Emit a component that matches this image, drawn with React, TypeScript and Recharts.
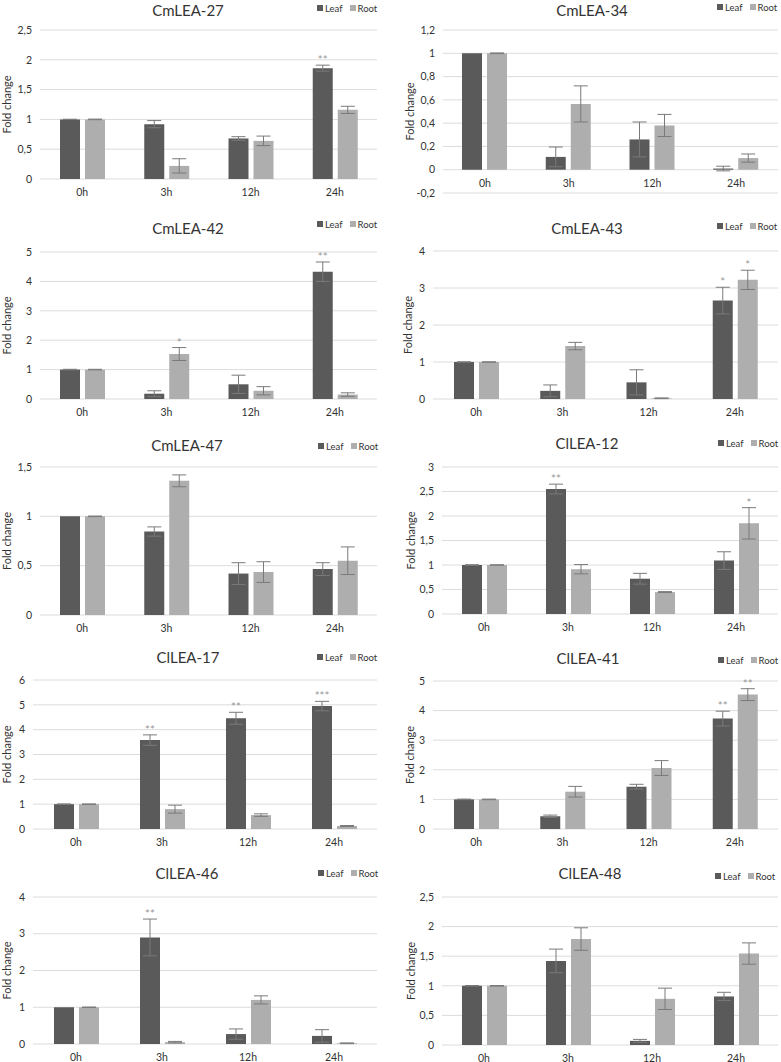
import { Bar, BarChart, CartesianGrid, ErrorBar, LabelList, XAxis, YAxis } from 'recharts'

const times = ['0h', '3h', '12h', '24h']

const cm27Leaf = [1, 0.92, 0.68, 1.86]
const cm27LeafErr = [0.003, 0.06, 0.03, 0.05]
const cm27Root = [1, 0.22, 0.64, 1.16]
const cm27RootErr = [0.005, 0.12, 0.08, 0.06]
const cm27LeafStars = ['', '', '', '**']
const cm27RootStars = ['', '', '', '']
const cm27Ticks = [0, 0.5, 1, 1.5, 2, 2.5]

const cm34Leaf = [1, 0.11, 0.26, 0.01]
const cm34LeafErr = [0, 0.085, 0.15, 0.02]
const cm34Root = [1, 0.565, 0.38, 0.1]
const cm34RootErr = [0.003, 0.155, 0.095, 0.035]
const cm34LeafStars = ['', '', '', '']
const cm34RootStars = ['', '', '', '']
const cm34Ticks = [-0.2, 0, 0.2, 0.4, 0.6, 0.8, 1, 1.2]

const cm42Leaf = [1, 0.18, 0.5, 4.33]
const cm42LeafErr = [0.01, 0.1, 0.31, 0.33]
const cm42Root = [1, 1.53, 0.28, 0.15]
const cm42RootErr = [0.01, 0.22, 0.14, 0.06]
const cm42LeafStars = ['', '', '', '**']
const cm42RootStars = ['', '*', '', '']
const cm42Ticks = [0, 1, 2, 3, 4, 5]

const cm43Leaf = [1, 0.22, 0.45, 2.66]
const cm43LeafErr = [0.005, 0.16, 0.34, 0.36]
const cm43Root = [1, 1.43, 0.02, 3.22]
const cm43RootErr = [0.005, 0.1, 0.01, 0.26]
const cm43LeafStars = ['', '', '', '*']
const cm43RootStars = ['', '', '', '*']
const cm43Ticks = [0, 1, 2, 3, 4]

const cm47Leaf = [1, 0.846, 0.42, 0.465]
const cm47LeafErr = [0, 0.047, 0.11, 0.065]
const cm47Root = [1, 1.36, 0.435, 0.55]
const cm47RootErr = [0.003, 0.06, 0.105, 0.14]
const cm47LeafStars = ['', '', '', '']
const cm47RootStars = ['', '', '', '']
const cm47Ticks = [0, 0.5, 1, 1.5]

const cl12Leaf = [1, 2.55, 0.72, 1.09]
const cl12LeafErr = [0.005, 0.1, 0.11, 0.18]
const cl12Root = [1, 0.914, 0.447, 1.85]
const cl12RootErr = [0.005, 0.095, 0.01, 0.32]
const cl12LeafStars = ['', '**', '', '']
const cl12RootStars = ['', '', '', '*']
const cl12Ticks = [0, 0.5, 1, 1.5, 2, 2.5, 3]

const cl17Leaf = [1, 3.58, 4.46, 4.95]
const cl17LeafErr = [0.01, 0.21, 0.24, 0.19]
const cl17Root = [1, 0.8, 0.56, 0.12]
const cl17RootErr = [0.01, 0.16, 0.05, 0.02]
const cl17LeafStars = ['', '**', '**', '***']
const cl17RootStars = ['', '', '', '']
const cl17Ticks = [0, 1, 2, 3, 4, 5, 6]

const cl41Leaf = [1, 0.43, 1.43, 3.73]
const cl41LeafErr = [0.01, 0.04, 0.08, 0.25]
const cl41Root = [1, 1.26, 2.06, 4.54]
const cl41RootErr = [0.01, 0.18, 0.25, 0.2]
const cl41LeafStars = ['', '', '', '**']
const cl41RootStars = ['', '', '', '**']
const cl41Ticks = [0, 1, 2, 3, 4, 5]

const cl46Leaf = [1, 2.9, 0.27, 0.22]
const cl46LeafErr = [0, 0.5, 0.14, 0.17]
const cl46Root = [1, 0.05, 1.2, 0.02]
const cl46RootErr = [0.005, 0.02, 0.11, 0.01]
const cl46LeafStars = ['', '**', '', '']
const cl46RootStars = ['', '', '', '']
const cl46Ticks = [0, 1, 2, 3, 4]

const cl48Leaf = [1, 1.42, 0.07, 0.82]
const cl48LeafErr = [0.005, 0.2, 0.025, 0.07]
const cl48Root = [1, 1.79, 0.78, 1.545]
const cl48RootErr = [0.005, 0.19, 0.18, 0.18]
const cl48LeafStars = ['', '', '', '']
const cl48RootStars = ['', '', '', '']
const cl48Ticks = [0, 0.5, 1, 1.5, 2, 2.5]

const LEAF = '#5a5a5a'
const ROOT = '#aeaeae'
const TEXT = '#333333'
const FONT = 'Lato, "Open Sans", sans-serif'

type Series = {
  title: string
  leaf: number[]
  leafErr: number[]
  root: number[]
  rootErr: number[]
  leafStars: string[]
  rootStars: string[]
  ticks: number[]
}

type Frame = {
  left: number
  top: number
  width: number
  plotLeft: number
  plotRight: number
  plotTop: number
  plotBottom: number
  titleX: number
  titleY: number
  legendX: number
  legendY: number
  labelX: number
}

const comma = (v: number) => String(v).replace('.', ',')

function starLabel(stars: string[], errs: number[]) {
  return (props: any) => {
    const vb = props.viewBox ?? props
    const { x, y, width, height } = vb
    const i = props.index
    const s = stars[i]
    if (!s) return null
    const perUnit = height / props.value
    const capY = y - errs[i] * perUnit
    return (
      <text x={x + width / 2} y={capY - 1} textAnchor="middle" fill="#999999" fontSize={11.5} fontFamily={FONT}>
        {s}
      </text>
    )
  }
}

function Panel({ s, f }: { s: Series; f: Frame }) {
  const data = times.map((t, i) => ({
    time: t,
    leaf: s.leaf[i],
    leafErr: s.leafErr[i],
    root: s.root[i],
    rootErr: s.rootErr[i],
  }))
  const min = s.ticks[0]
  const max = s.ticks[s.ticks.length - 1]
  // x labels sit under the zero line, like Excel does
  const lift = ((f.plotBottom - f.plotTop) * (0 - min)) / (max - min)
  const height = f.plotBottom + 22

  return (
    <div style={{ position: 'absolute', left: f.left, top: f.top, width: f.width, height }}>
      <div
        style={{
          position: 'absolute',
          left: f.titleX - 100,
          width: 200,
          top: f.titleY - 10,
          textAlign: 'center',
          fontSize: 15,
          lineHeight: '20px',
          color: TEXT,
          fontFamily: FONT,
        }}
      >
        {s.title}
      </div>
      <div
        style={{
          position: 'absolute',
          left: f.legendX,
          top: f.legendY - 6,
          height: 12,
          display: 'flex',
          alignItems: 'center',
          fontSize: 9.5,
          color: TEXT,
          fontFamily: FONT,
          whiteSpace: 'nowrap',
        }}
      >
        <span style={{ width: 6, height: 6, background: LEAF, marginRight: 2 }} />
        <span>Leaf</span>
        <span style={{ width: 6, height: 6, background: ROOT, marginLeft: 7, marginRight: 2 }} />
        <span>Root</span>
      </div>
      <BarChart
        width={f.width}
        height={height}
        data={data}
        margin={{ top: f.plotTop, right: f.width - f.plotRight, left: 0, bottom: 0 }}
        barSize={20}
        barGap={5}
      >
        <CartesianGrid vertical={false} stroke="#dcdcdc" />
        <XAxis
          dataKey="time"
          height={22}
          axisLine={false}
          tickLine={false}
          interval={0}
          tick={(p: any) => (
            <text x={p.x} y={p.y - lift + 9} textAnchor="middle" fill={TEXT} fontSize={10.5} fontFamily={FONT}>
              {p.payload.value}
            </text>
          )}
        />
        <YAxis
          width={f.plotLeft}
          domain={[min, max]}
          ticks={s.ticks}
          interval={0}
          axisLine={false}
          tickLine={false}
          tickFormatter={comma}
          tick={{ fontSize: 10.5, fill: TEXT, fontFamily: FONT }}
          label={{
            value: 'Fold change',
            angle: -90,
            position: 'insideLeft',
            offset: f.labelX,
            style: { textAnchor: 'middle', fontSize: 11, fill: TEXT, fontFamily: FONT },
          }}
        />
        <Bar dataKey="leaf" fill={LEAF} isAnimationActive={false}>
          <ErrorBar dataKey="leafErr" width={7} stroke="#7a7a7a" strokeWidth={1} direction="y" />
          <LabelList dataKey="leaf" content={starLabel(s.leafStars, s.leafErr)} />
        </Bar>
        <Bar dataKey="root" fill={ROOT} isAnimationActive={false}>
          <ErrorBar dataKey="rootErr" width={7} stroke="#7a7a7a" strokeWidth={1} direction="y" />
          <LabelList dataKey="root" content={starLabel(s.rootStars, s.rootErr)} />
        </Bar>
      </BarChart>
    </div>
  )
}

const panels: { s: Series; f: Frame }[] = [
  {
    s: { title: 'CmLEA-27', leaf: cm27Leaf, leafErr: cm27LeafErr, root: cm27Root, rootErr: cm27RootErr, leafStars: cm27LeafStars, rootStars: cm27RootStars, ticks: cm27Ticks },
    f: { left: 0, top: 0, width: 390, plotLeft: 40, plotRight: 377, plotTop: 30, plotBottom: 179, titleX: 188, titleY: 10, legendX: 317, legendY: 8, labelX: 7 },
  },
  {
    s: { title: 'CmLEA-34', leaf: cm34Leaf, leafErr: cm34LeafErr, root: cm34Root, rootErr: cm34RootErr, leafStars: cm34LeafStars, rootStars: cm34RootStars, ticks: cm34Ticks },
    f: { left: 390, top: 0, width: 391, plotLeft: 53, plotRight: 388, plotTop: 30, plotBottom: 193, titleX: 202, titleY: 10, legendX: 327, legendY: 7, labelX: 20 },
  },
  {
    s: { title: 'CmLEA-42', leaf: cm42Leaf, leafErr: cm42LeafErr, root: cm42Root, rootErr: cm42RootErr, leafStars: cm42LeafStars, rootStars: cm42RootStars, ticks: cm42Ticks },
    f: { left: 0, top: 210, width: 390, plotLeft: 40, plotRight: 377, plotTop: 42, plotBottom: 189, titleX: 188, titleY: 18, legendX: 317, legendY: 14, labelX: 7 },
  },
  {
    s: { title: 'CmLEA-43', leaf: cm43Leaf, leafErr: cm43LeafErr, root: cm43Root, rootErr: cm43RootErr, leafStars: cm43LeafStars, rootStars: cm43RootStars, ticks: cm43Ticks },
    f: { left: 390, top: 210, width: 391, plotLeft: 43, plotRight: 388, plotTop: 41, plotBottom: 189, titleX: 197, titleY: 18, legendX: 327, legendY: 16, labelX: 18 },
  },
  {
    s: { title: 'CmLEA-47', leaf: cm47Leaf, leafErr: cm47LeafErr, root: cm47Root, rootErr: cm47RootErr, leafStars: cm47LeafStars, rootStars: cm47RootStars, ticks: cm47Ticks },
    f: { left: 0, top: 420, width: 390, plotLeft: 40, plotRight: 377, plotTop: 47, plotBottom: 195, titleX: 187, titleY: 25, legendX: 318, legendY: 26, labelX: 7 },
  },
  {
    s: { title: 'ClLEA-12', leaf: cl12Leaf, leafErr: cl12LeafErr, root: cl12Root, rootErr: cl12RootErr, leafStars: cl12LeafStars, rootStars: cl12RootStars, ticks: cl12Ticks },
    f: { left: 390, top: 420, width: 391, plotLeft: 52, plotRight: 388, plotTop: 47, plotBottom: 194, titleX: 197, titleY: 23, legendX: 328, legendY: 23, labelX: 21 },
  },
  {
    s: { title: 'ClLEA-17', leaf: cl17Leaf, leafErr: cl17LeafErr, root: cl17Root, rootErr: cl17RootErr, leafStars: cl17LeafStars, rootStars: cl17RootStars, ticks: cl17Ticks },
    f: { left: 0, top: 630, width: 390, plotLeft: 33, plotRight: 377, plotTop: 50, plotBottom: 199, titleX: 188, titleY: 27, legendX: 317, legendY: 27, labelX: 7 },
  },
  {
    s: { title: 'ClLEA-41', leaf: cl41Leaf, leafErr: cl41LeafErr, root: cl41Root, rootErr: cl41RootErr, leafStars: cl41LeafStars, rootStars: cl41RootStars, ticks: cl41Ticks },
    f: { left: 390, top: 630, width: 391, plotLeft: 43, plotRight: 388, plotTop: 51, plotBottom: 199, titleX: 198, titleY: 28, legendX: 328, legendY: 30, labelX: 20 },
  },
  {
    s: { title: 'ClLEA-46', leaf: cl46Leaf, leafErr: cl46LeafErr, root: cl46Root, rootErr: cl46RootErr, leafStars: cl46LeafStars, rootStars: cl46RootStars, ticks: cl46Ticks },
    f: { left: 0, top: 845, width: 390, plotLeft: 33, plotRight: 377, plotTop: 52, plotBottom: 199, titleX: 187, titleY: 28, legendX: 318, legendY: 28, labelX: 7 },
  },
  {
    s: { title: 'ClLEA-48', leaf: cl48Leaf, leafErr: cl48LeafErr, root: cl48Root, rootErr: cl48RootErr, leafStars: cl48LeafStars, rootStars: cl48RootStars, ticks: cl48Ticks },
    f: { left: 390, top: 845, width: 391, plotLeft: 52, plotRight: 388, plotTop: 52, plotBottom: 200, titleX: 200, titleY: 28, legendX: 325, legendY: 31, labelX: 21 },
  },
]

export default function App() {
  return (
    <div style={{ position: 'absolute', left: 0, top: 0, width: 781, height: 1062, background: '#fff', fontFamily: FONT }}>
      {panels.map((p) => (
        <Panel key={p.s.title} s={p.s} f={p.f} />
      ))}
    </div>
  )
}
